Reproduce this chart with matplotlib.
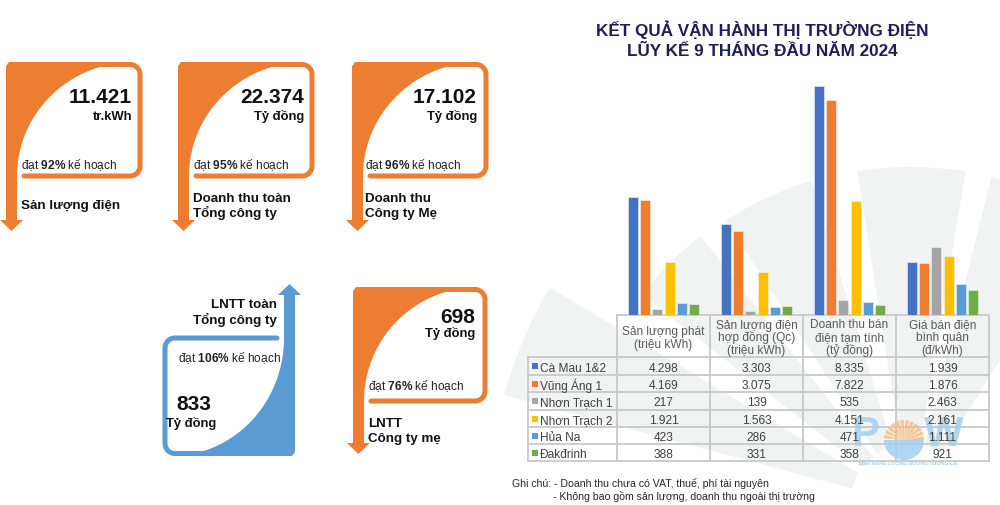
import numpy as np
import matplotlib.pyplot as plt
from matplotlib.patches import Polygon, Rectangle, Wedge, PathPatch
from matplotlib.lines import Line2D
from matplotlib.textpath import TextPath
from matplotlib.font_manager import FontProperties
from matplotlib.transforms import Affine2D

plt.rcParams['font.family'] = ['Liberation Sans', 'DejaVu Sans']
plt.rcParams['mathtext.fontset'] = 'custom'
plt.rcParams['mathtext.rm'] = 'Liberation Sans'
plt.rcParams['mathtext.bf'] = 'Liberation Sans:bold'

# ---- data ----
plants = ['Cà Mau 1&2', 'Vũng Áng 1', 'Nhơn Trạch 1', 'Nhơn Trạch 2', 'Hủa Na', 'Đakđrinh']
metrics = ['Sản lượng phát\n(triệu kWh)',
           'Sản lượng điện\nhợp đồng (Qc)\n(triệu kWh)',
           'Doanh thu bán\nđiện tạm tính\n(tỷ đồng)',
           'Giá bán điện\nbình quân\n(đ/kWh)']
san_luong_phat = [4298, 4169, 217, 1921, 423, 388]
san_luong_qc = [3303, 3075, 139, 1563, 286, 331]
doanh_thu = [8335, 7822, 535, 4151, 471, 358]
gia_ban = [1939, 1876, 2463, 2161, 1111, 921]
plant_colors = ['#4472C4', '#ED7D31', '#A5A5A5', '#FFC000', '#5B9BD5', '#70AD47']

card_values = ['11.421', '22.374', '17.102', '698', '833']
card_units = ['tr.kWh', 'Tỷ đồng', 'Tỷ đồng', 'Tỷ đồng', 'Tỷ đồng']
card_pct = ['92%', '95%', '96%', '76%', '106%']
card_labels = ['Sản lượng điện', 'Doanh thu toàn\nTổng công ty', 'Doanh thu\nCông ty Mẹ',
               'LNTT\nCông ty mẹ', 'LNTT toàn\nTổng công ty']

title_lines = ['KẾT QUẢ VẬN HÀNH THỊ TRƯỜNG ĐIỆN', 'LŨY KẾ 9 THÁNG ĐẦU NĂM 2024']
notes = ['Ghi chú: - Doanh thu chưa có VAT, thuế, phí tài nguyên',
         '- Không bao gồm sản lượng, doanh thu ngoài thị trường']

ORANGE = '#ED7D31'
BLUE = '#5B9BD5'
INK = '#111111'
LOGO_BLUE = '#A3CFEF'

fig = plt.figure(figsize=(10, 5.06), dpi=100)
bg = fig.add_axes([0, 0, 1, 1], zorder=0)
bg.set_xlim(0, 1000)
bg.set_ylim(506, 0)
bg.axis('off')


def px(n):
    return n * 0.72


# faint sunburst rays behind the chart
for a1, a2, r in [(128, 142, 340), (107, 123, 338), (80.5, 99, 337), (58, 76, 337), (149, 165, 420)]:
    bg.add_patch(Wedge((910, 505), r, -a2, -a1, width=r - 60, color='#F1F2F2', lw=0, zorder=0))


def card(origin, flip, w, h, tail, color):
    x0, y0 = origin
    s = -1 if flip else 1
    stem = 11

    def tr(pts):
        return [(x0 + s * u, y0 + s * v) for u, v in pts]

    # curved filled corner + stem
    cx, cy = w - 6, h
    a, b = cx - stem, h
    t = np.linspace(0, np.pi / 2, 60)
    arc = list(zip(cx - a * np.sin(t), cy - b * np.cos(t)))
    fill = [(0, 4), (4, 0)] + arc + [(stem, h + tail - 10), (0, h + tail - 10)]
    bg.add_patch(Polygon(tr(fill), closed=True, color=color, lw=0, zorder=2))
    # arrow head
    head = [(-6, h + tail - 11), (stem + 6, h + tail - 11), (stem / 2, h + tail)]
    bg.add_patch(Polygon(tr(head), closed=True, color=color, lw=0, zorder=2))
    # thin frame: bottom, right, top
    r = 10
    q = np.linspace(0, np.pi / 2, 20)
    frame = [(stem + 7, h), (w - r, h)]
    frame += list(zip(w - r + r * np.sin(q), h - r + r * np.cos(q)))
    frame += list(zip(w - r + r * np.cos(q), r + 2.5 - r * np.sin(q)))
    frame += [(4, 2.5)]
    xs, ys = zip(*tr(frame))
    bg.add_line(Line2D(xs, ys, color=color, lw=px(5), solid_capstyle='round',
                       solid_joinstyle='round', zorder=2))


card((6, 63), False, 134, 114, 55, ORANGE)
card((178, 63), False, 134, 114, 55, ORANGE)
card((352, 63), False, 134, 114, 55, ORANGE)
card((353, 288), False, 132, 114, 53, ORANGE)
card((295, 457), True, 130, 118, 54, BLUE)


def pct_text(x, y, pct, ha):
    bg.text(x, y, 'đạt $\\mathbf{' + pct.replace('%', '\\%') + '}$ kế hoạch', ha=ha, va='baseline',
            fontsize=8.6, color='#222222', zorder=5)


def lines(x, y, txt, ha, step=15.5):
    for k, ln in enumerate(txt.split('\n')):
        bg.text(x, y + k * step, ln, ha=ha, va='baseline', fontsize=9.6,
                fontweight='bold', color=INK, zorder=5)


# top three cards
for i, (right, left) in enumerate([(132, 21), (304, 193), (477, 365)]):
    bg.text(right, 103, card_values[i], ha='right', va='baseline', fontsize=15,
            fontweight='bold', color=INK, zorder=5)
    bg.text(right, 120, card_units[i], ha='right', va='baseline', fontsize=9.4,
            fontweight='bold', color=INK, zorder=5)
    pct_text(left, 169, card_pct[i], 'left')
    lines(left, 209 if i == 0 else 202, card_labels[i], 'left')

# LNTT cong ty me
bg.text(475, 323, card_values[3], ha='right', va='baseline', fontsize=15,
        fontweight='bold', color=INK, zorder=5)
bg.text(475, 337, card_units[3], ha='right', va='baseline', fontsize=9.4,
        fontweight='bold', color=INK, zorder=5)
pct_text(368, 390, card_pct[3], 'left')
lines(368, 427, card_labels[3], 'left')

# LNTT toan tong cong ty (blue)
lines(277, 308, card_labels[4], 'right', step=16)
pct_text(281, 362, card_pct[4], 'right')
bg.text(176, 410, card_values[4], ha='left', va='baseline', fontsize=15,
        fontweight='bold', color=INK, zorder=5)
bg.text(166, 427, card_units[4], ha='left', va='baseline', fontsize=9.4,
        fontweight='bold', color=INK, zorder=5)

# title
for k, t in enumerate(title_lines):
    bg.text(762, 36 + k * 20, t, ha='center', va='baseline', fontsize=12.3,
            fontweight='bold', color='#1F1D57', zorder=5)

# ---- bar chart ----
series = [san_luong_phat, san_luong_qc, doanh_thu, gia_ban]
vals = np.array(series).T  # plants x metrics
ax = fig.add_axes([617 / 1000, (506 - 316) / 506, 372 / 1000, (316 - 80) / 506], zorder=1)
ax.patch.set_alpha(0)
x = np.arange(len(metrics))
slot = 0.131
for i, name in enumerate(plants):
    ax.bar(x + (i - 2.5) * slot, vals[i], width=0.108, color=plant_colors[i],
           edgecolor='#f4f4f4', linewidth=0.4, label=name)
ax.set_xlim(-0.5, 3.5)
ax.set_ylim(0, 8590)
ax.axis('off')

# ---- watermark logo (drawn as shapes) ----
logo_font = FontProperties(family='Liberation Sans', weight='bold')


def glyph(ch, x0, base, size):
    tp = TextPath((0, 0), ch, size=size, prop=logo_font)
    path = Affine2D().scale(1, -1).translate(x0, base).transform_path(tp)
    bg.add_patch(PathPatch(path, color=LOGO_BLUE, lw=0, alpha=0.85, zorder=4))


glyph('P', 852, 447, 42)
glyph('W', 924, 447, 42)
for a0 in np.arange(0, 180, 15):
    bg.add_patch(Wedge((904, 441), 20, -(a0 + 11), -a0, color='#F8BD80', alpha=0.85, lw=0, zorder=4))
bg.add_patch(Wedge((904, 441), 20, 0, 180, color=LOGO_BLUE, alpha=0.85, lw=0, zorder=4))
sub = TextPath((0, 0), 'SINH NĂNG LƯỢNG DƯỠNG TƯƠNG LAI', size=5, prop=logo_font)
sub_w = sub.get_extents().width
bg.add_patch(PathPatch(Affine2D().scale(1, -1).translate(908 - sub_w / 2, 466).transform_path(sub),
                       color=LOGO_BLUE, lw=0, zorder=4))

# ---- data table under the bars ----
col_edges = [528, 617, 710, 803, 896, 989]
row_edges = [316, 358, 376, 393, 411, 428, 445, 462]
grid = dict(color='#C8C8C8', lw=1.3, zorder=3)
bg.plot([617, 989], [316, 316], **grid)
for y in row_edges[1:]:
    bg.plot([528, 989], [y, y], **grid)
bg.plot([528, 528], [358, 462], **grid)
for xe in col_edges[1:]:
    bg.plot([xe, xe], [316, 462], **grid)

for j, m in enumerate(metrics):
    xc = (col_edges[j + 1] + col_edges[j + 2]) / 2
    parts = m.split('\n')
    y0 = 335 if len(parts) == 2 else 328.5
    for k, ln in enumerate(parts):
        bg.text(xc, y0 + k * 12.8, ln, ha='center', va='baseline', fontsize=8.6,
                color='#595959', zorder=5)

for i, name in enumerate(plants):
    yc = (row_edges[i + 1] + row_edges[i + 2]) / 2
    bg.add_patch(Rectangle((532, yc - 3), 6, 6, color=plant_colors[i], lw=0, zorder=5))
    bg.text(540, yc, name, ha='left', va='center_baseline', fontsize=8.6,
            color='#404040', zorder=5)
    for j in range(len(metrics)):
        xc = (col_edges[j + 1] + col_edges[j + 2]) / 2
        bg.text(xc, yc, f'{vals[i][j]:,}'.replace(',', '.'), ha='center',
                va='center_baseline', fontsize=8.6, color='#404040', zorder=5)

# notes
bg.text(512, 487, notes[0], ha='left', va='baseline', fontsize=7.6, color='#262626', zorder=5)
bg.text(553, 500, notes[1], ha='left', va='baseline', fontsize=7.6, color='#262626', zorder=5)

fig.savefig('out.png', dpi=100)
